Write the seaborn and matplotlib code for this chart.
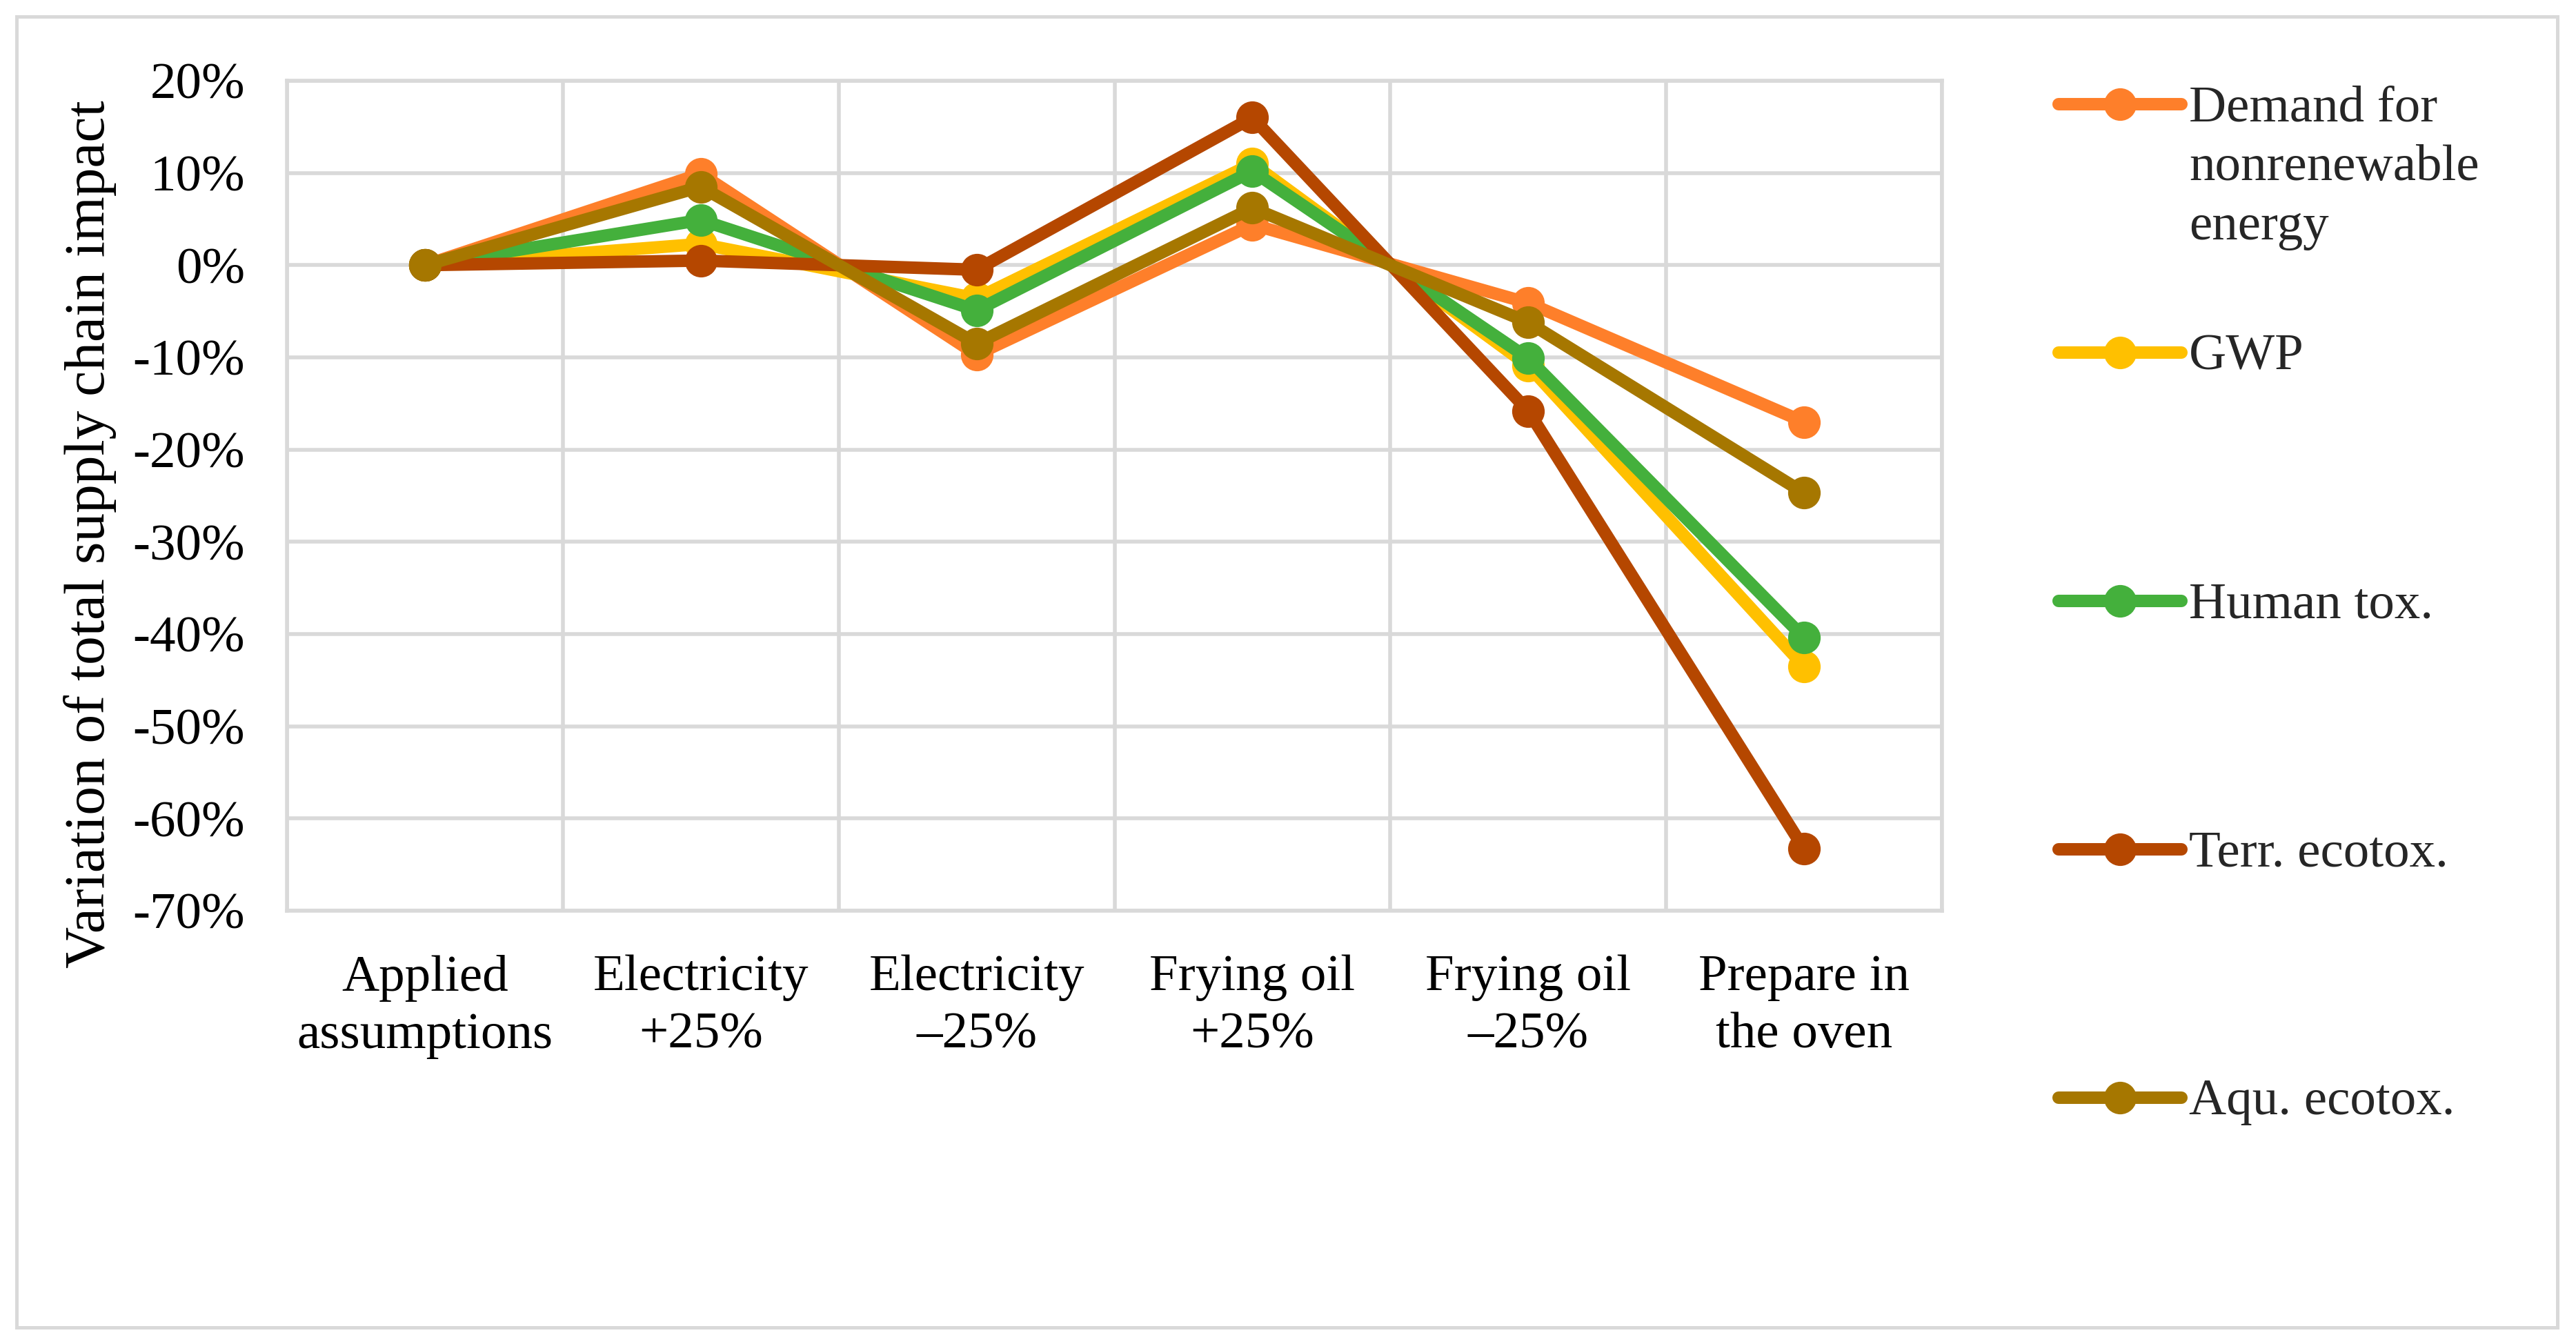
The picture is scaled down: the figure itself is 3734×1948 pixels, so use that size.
import pandas as pd
import matplotlib.pyplot as plt
import seaborn as sns
from matplotlib.lines import Line2D
from matplotlib.patches import Rectangle

# datos
escenarios = ['Applied\nassumptions', 'Electricity\n+25%', 'Electricity\n\u201325%',
              'Frying oil\n+25%', 'Frying oil\n\u201325%', 'Prepare in\nthe oven']
categorias = ['Demand for\nnonrenewable\nenergy', 'GWP', 'Human tox.', 'Terr. ecotox.', 'Aqu. ecotox.']
demanda = [0.0, 9.9, -9.7, 4.4, -4.1, -17.0]
gwp = [0.0, 2.3, -3.6, 11.0, -10.9, -43.5]
human_tox = [0.0, 4.9, -4.9, 10.2, -10.1, -40.4]
terr_ecotox = [0.0, 0.5, -0.5, 16.0, -15.8, -63.3]
aqu_ecotox = [0.0, 8.5, -8.5, 6.2, -6.2, -24.7]
yticks = [20, 10, 0, -10, -20, -30, -40, -50, -60, -70]
yticklabels = ['20%', '10%', '0%', '-10%', '-20%', '-30%', '-40%', '-50%', '-60%', '-70%']
colores = ['#FE7F2A', '#FFC000', '#44B03C', '#B54700', '#A67700']

series = [demanda, gwp, human_tox, terr_ecotox, aqu_ecotox]
df = pd.DataFrame({
    'Escenario': escenarios * len(categorias),
    'Variacion': [v for s in series for v in s],
    'Categoria': [c for c in categorias for _ in escenarios],
})

sns.set_theme(style='white')
plt.rcParams['font.family'] = ['Liberation Serif']
FS = 27

W, H = 3734, 1948
fig = plt.figure(figsize=(W / 200, H / 200), dpi=200)
ax = fig.add_axes([416 / W, 1 - 1320 / H, (2815 - 416) / W, (1320 - 117) / H])

sns.lineplot(data=df, x='Escenario', y='Variacion', hue='Categoria', hue_order=categorias,
             palette=colores, marker='o', markersize=17, markeredgewidth=0,
             linewidth=6.5, sort=False, legend=False, ax=ax)

gris = '#D9D9D9'
ax.set_xlim(-0.5, len(escenarios) - 0.5)
ax.set_ylim(-70, 20)
ax.set_yticks(yticks)
ax.set_yticklabels(yticklabels)
ax.set_xticks(range(len(escenarios)))
ax.set_xticklabels(escenarios, linespacing=1.3)
ax.set_xticks([i + 0.5 for i in range(-1, len(escenarios))], minor=True)
ax.grid(True, axis='y', which='major', color=gris, linewidth=2)
ax.grid(True, axis='x', which='minor', color=gris, linewidth=2)
ax.grid(False, axis='x', which='major')
ax.set_axisbelow(True)
for s in ax.spines.values():
    s.set_color(gris)
    s.set_linewidth(2)
ax.tick_params(axis='both', which='both', length=0, labelsize=FS, colors='black')
ax.tick_params(axis='y', pad=22)
ax.tick_params(axis='x', pad=23)
ax.set_xlabel('')
ax.set_ylabel('Variation of total supply chain impact', fontsize=30, color='black')
ax.yaxis.set_label_coords(-0.103, 0.454)

# leyenda a la derecha, como en Excel (cada línea del texto por separado)
for i, (cat, col) in enumerate(zip(categorias, colores)):
    yc = 1 - (150.7 + 360 * i) / H
    fig.add_artist(Line2D([2984 / W, 3162 / W], [yc, yc], transform=fig.transFigure,
                          color=col, linewidth=6.5, solid_capstyle='round'))
    fig.add_artist(Line2D([3073 / W], [yc], transform=fig.transFigure, color=col,
                          marker='o', markersize=17, markeredgewidth=0))
    for j, linea in enumerate(cat.split('\n')):
        fig.text(3173 / W, yc - (24.3 + 86 * j) / H, linea, fontsize=FS,
                 va='baseline', ha='left')

# borde del área del gráfico
fig.add_artist(Rectangle((24 / W, 24 / H), 3683 / W, 1900 / H, transform=fig.transFigure,
                         fill=False, edgecolor=gris, linewidth=1.8))

fig.savefig('out.png', dpi=200)
